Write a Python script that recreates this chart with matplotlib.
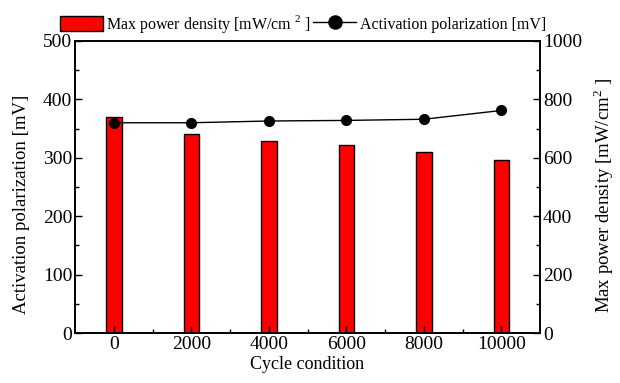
import matplotlib
matplotlib.use("Agg")
import matplotlib.pyplot as plt
from matplotlib.ticker import MultipleLocator
import numpy as np

plt.rcParams['font.family'] = ['Liberation Serif', 'DejaVu Serif']
plt.rcParams['mathtext.fontset'] = 'custom'
plt.rcParams['mathtext.rm'] = 'Liberation Serif'

cycles = ['0', '2000', '4000', '6000', '8000', '10000']
power_density = [740, 680, 658, 643, 619, 591]      # mW/cm2
activation_pol = [360, 360, 363, 364, 366, 381]     # mV

x = np.arange(len(cycles))

fig = plt.figure(figsize=(6.2, 3.83), dpi=100)
ax = fig.add_axes([0.121, 0.1305, 0.75, 0.7625])
ax2 = ax.twinx()

bars = ax2.bar(x, power_density, width=0.2, color='#ff0000',
               edgecolor='black', linewidth=1.0, label='Max power density [mW/cm $^{2}$ ]')
line, = ax.plot(x, activation_pol, color='black', linewidth=1.0, marker='o',
                markersize=7, label='Activation polarization [mV]')

# line axes above the bars
ax.set_zorder(ax2.get_zorder() + 1)
ax.patch.set_visible(False)

ax.set_xlim(-0.5, 5.5)
ax.set_ylim(0, 500)
ax2.set_ylim(0, 1000)
ax.set_xticks(x)
ax.set_xticklabels(cycles)
ax.set_xticks(x[:-1] + 0.5, minor=True)
ax.yaxis.set_major_locator(MultipleLocator(100))
ax.yaxis.set_minor_locator(MultipleLocator(50))
ax2.yaxis.set_major_locator(MultipleLocator(200))
ax2.yaxis.set_minor_locator(MultipleLocator(100))

for a in (ax, ax2):
    a.tick_params(which='major', direction='in', length=5, width=1, labelsize=14, pad=2)
    a.tick_params(which='minor', direction='in', length=3, width=1)
    for s in a.spines.values():
        s.set_linewidth(1.2)
ax.tick_params(axis='x', which='both', top=False)

ax.set_xlabel('Cycle condition', fontsize=13, labelpad=2)
ax.set_ylabel('Activation polarization [mV]', fontsize=13.5)
ax.yaxis.set_label_coords(-0.097, 0.44)
ax2.set_ylabel('Max power density [mW/cm$^{2}$ ]', fontsize=13.5)
ax2.yaxis.set_label_coords(1.11, 0.47)

ax.legend([bars, line], [bars.get_label(), line.get_label()],
          loc='lower center', bbox_to_anchor=(0.49, 1.01), ncol=2, frameon=False,
          fontsize=11.5, handlelength=2.7, handleheight=1.1, handletextpad=0.2,
          columnspacing=0.15, markerscale=1.35, borderaxespad=0.1, borderpad=0.1)

fig.savefig('out.png', dpi=100)
